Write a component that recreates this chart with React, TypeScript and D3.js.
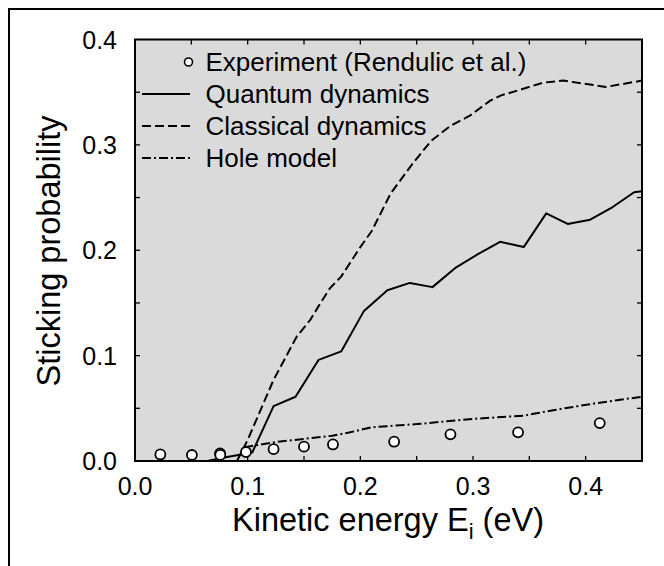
import React from "react";
import * as d3 from "d3";

const xTicks = [0.0, 0.1, 0.2, 0.3, 0.4];
const yTicks = [0.0, 0.1, 0.2, 0.3, 0.4];
const minorTicksX = [0.05, 0.1, 0.15, 0.2, 0.25, 0.3, 0.35, 0.4];
const minorTicksY = [0.05, 0.1, 0.15, 0.2, 0.25, 0.3, 0.35];

const expX = [0.0225, 0.0505, 0.0755, 0.0757, 0.0985, 0.123, 0.15, 0.1757, 0.23, 0.28, 0.34, 0.4125];
const expY = [0.0062, 0.0057, 0.0073, 0.0058, 0.0085, 0.0112, 0.0136, 0.0157, 0.0183, 0.0253, 0.0272, 0.036];

const quantumX = [0.064, 0.083, 0.093, 0.104, 0.123, 0.1425, 0.163, 0.183, 0.203, 0.224, 0.244, 0.264, 0.284, 0.304, 0.324, 0.345, 0.365, 0.384, 0.404, 0.424, 0.443, 0.45];
const quantumY = [0.0, 0.004, 0.006, 0.008, 0.052, 0.061, 0.096, 0.104, 0.142, 0.162, 0.169, 0.165, 0.183, 0.196, 0.208, 0.203, 0.235, 0.225, 0.229, 0.241, 0.255, 0.256];

const classicalX = [0.0905, 0.1, 0.123, 0.1435, 0.1556, 0.163, 0.173, 0.183, 0.2, 0.21, 0.227, 0.247, 0.263, 0.28, 0.2976, 0.3153, 0.325, 0.341, 0.362, 0.38, 0.399, 0.418, 0.45];
const classicalY = [0.0, 0.02, 0.077, 0.118, 0.134, 0.147, 0.164, 0.175, 0.203, 0.218, 0.254, 0.283, 0.304, 0.318, 0.328, 0.342, 0.347, 0.352, 0.359, 0.361, 0.358, 0.355, 0.361];

const holeX = [0.097, 0.125, 0.15, 0.175, 0.19, 0.21, 0.25, 0.3, 0.345, 0.355, 0.37, 0.41, 0.45];
const holeY = [0.013, 0.018, 0.021, 0.024, 0.027, 0.032, 0.035, 0.04, 0.043, 0.045, 0.048, 0.055, 0.061];

const legendLabels = ["Experiment (Rendulic et al.)", "Quantum dynamics", "Classical dynamics", "Hole model"];

const FONT = "'Liberation Sans', Arial, Helvetica, sans-serif";

const L = 135, R = 642, T = 39.5, B = 461;

export default function App() {
  const x = d3.scaleLinear().domain([0, 0.45]).range([L, R]);
  const y = d3.scaleLinear().domain([0, 0.4]).range([B, T]);
  const fmt = d3.format(".1f");
  const line = d3.line<[number, number]>().x((d) => x(d[0])).y((d) => y(d[1]));
  const zip = (a: number[], b: number[]) => a.map((v, i) => [v, b[i]] as [number, number]);

  const series = [
    { d: zip(quantumX, quantumY), dash: "none" },
    { d: zip(classicalX, classicalY), dash: "9,4" },
    { d: zip(holeX, holeY), dash: "9,3,2,3" },
  ];

  const T_ = (
    x0: number, y0: number, txt: React.ReactNode, size: number, anchor: string, rot = 0
  ) => (
    <text
      transform={`translate(${x0},${y0}) rotate(${rot})`}
      fontSize={size}
      fontFamily={FONT}
      textAnchor={anchor}
      fill="#000"
    >
      {txt}
    </text>
  );

  const tickLen = 5;
  const legRows = [62, 94, 126, 158];

  return (
    <svg
      width={664}
      height={566}
      style={{ position: "absolute", left: 0, top: 0, background: "#fff" }}
    >
      <path d="M9,566 L9,9 L664,9" fill="none" stroke="#000" strokeWidth={2} />
      <defs>
        <clipPath id="plotclip">
          <rect x={L} y={T} width={R - L} height={B - T} />
        </clipPath>
      </defs>
      <rect x={L} y={T} width={R - L} height={B - T} fill="#dadada" />

      {minorTicksX.map((t) => (
        <g key={"mx" + t}>
          <line x1={x(t)} x2={x(t)} y1={B} y2={B - tickLen} stroke="#000" strokeWidth={1.3} />
          <line x1={x(t)} x2={x(t)} y1={T} y2={T + tickLen} stroke="#000" strokeWidth={1.3} />
        </g>
      ))}
      {minorTicksY.map((t) => (
        <g key={"my" + t}>
          <line x1={L} x2={L + tickLen} y1={y(t)} y2={y(t)} stroke="#000" strokeWidth={1.3} />
          <line x1={R} x2={R - tickLen} y1={y(t)} y2={y(t)} stroke="#000" strokeWidth={1.3} />
        </g>
      ))}

      <g clipPath="url(#plotclip)">
        {series.map((s, i) => (
          <path
            key={i}
            d={line(s.d) || ""}
            fill="none"
            stroke="#000"
            strokeWidth={2}
            strokeDasharray={s.dash}
            strokeLinejoin="round"
          />
        ))}
        {expX.map((v, i) => (
          <circle key={i} cx={x(v)} cy={y(expY[i])} r={5} fill="#fff" stroke="#000" strokeWidth={1.8} />
        ))}
      </g>

      <rect x={L} y={T} width={R - L} height={B - T} fill="none" stroke="#000" strokeWidth={2} />

      {xTicks.map((t) => (
        <g key={"xt" + t}>{T_(x(t), 495, fmt(t), 25, "middle")}</g>
      ))}
      {yTicks.map((t) => (
        <g key={"yt" + t}>{T_(117, y(t) + 9, fmt(t), 25, "end")}</g>
      ))}

      {/* legend */}
      <circle cx={188.5} cy={legRows[0]} r={4} fill="#fff" stroke="#000" strokeWidth={1.6} />
      {series.map((s, i) => (
        <line
          key={"ll" + i}
          x1={142}
          x2={190}
          y1={legRows[i + 1]}
          y2={legRows[i + 1]}
          stroke="#000"
          strokeWidth={2}
          strokeDasharray={s.dash}
        />
      ))}
      {legendLabels.map((lab, i) => (
        <g key={"lt" + i}>{T_(205.5, legRows[i] + 9.3, lab, 26, "start")}</g>
      ))}

      {T_(
        388,
        531,
        <>
          Kinetic energy E
          <tspan fontSize={22} dy={8}>i</tspan>
          <tspan dy={-8}> (eV)</tspan>
        </>,
        32.5,
        "middle"
      )}
      {T_(59.5, 251, "Sticking probability", 32.5, "middle", -90)}
    </svg>
  );
}
